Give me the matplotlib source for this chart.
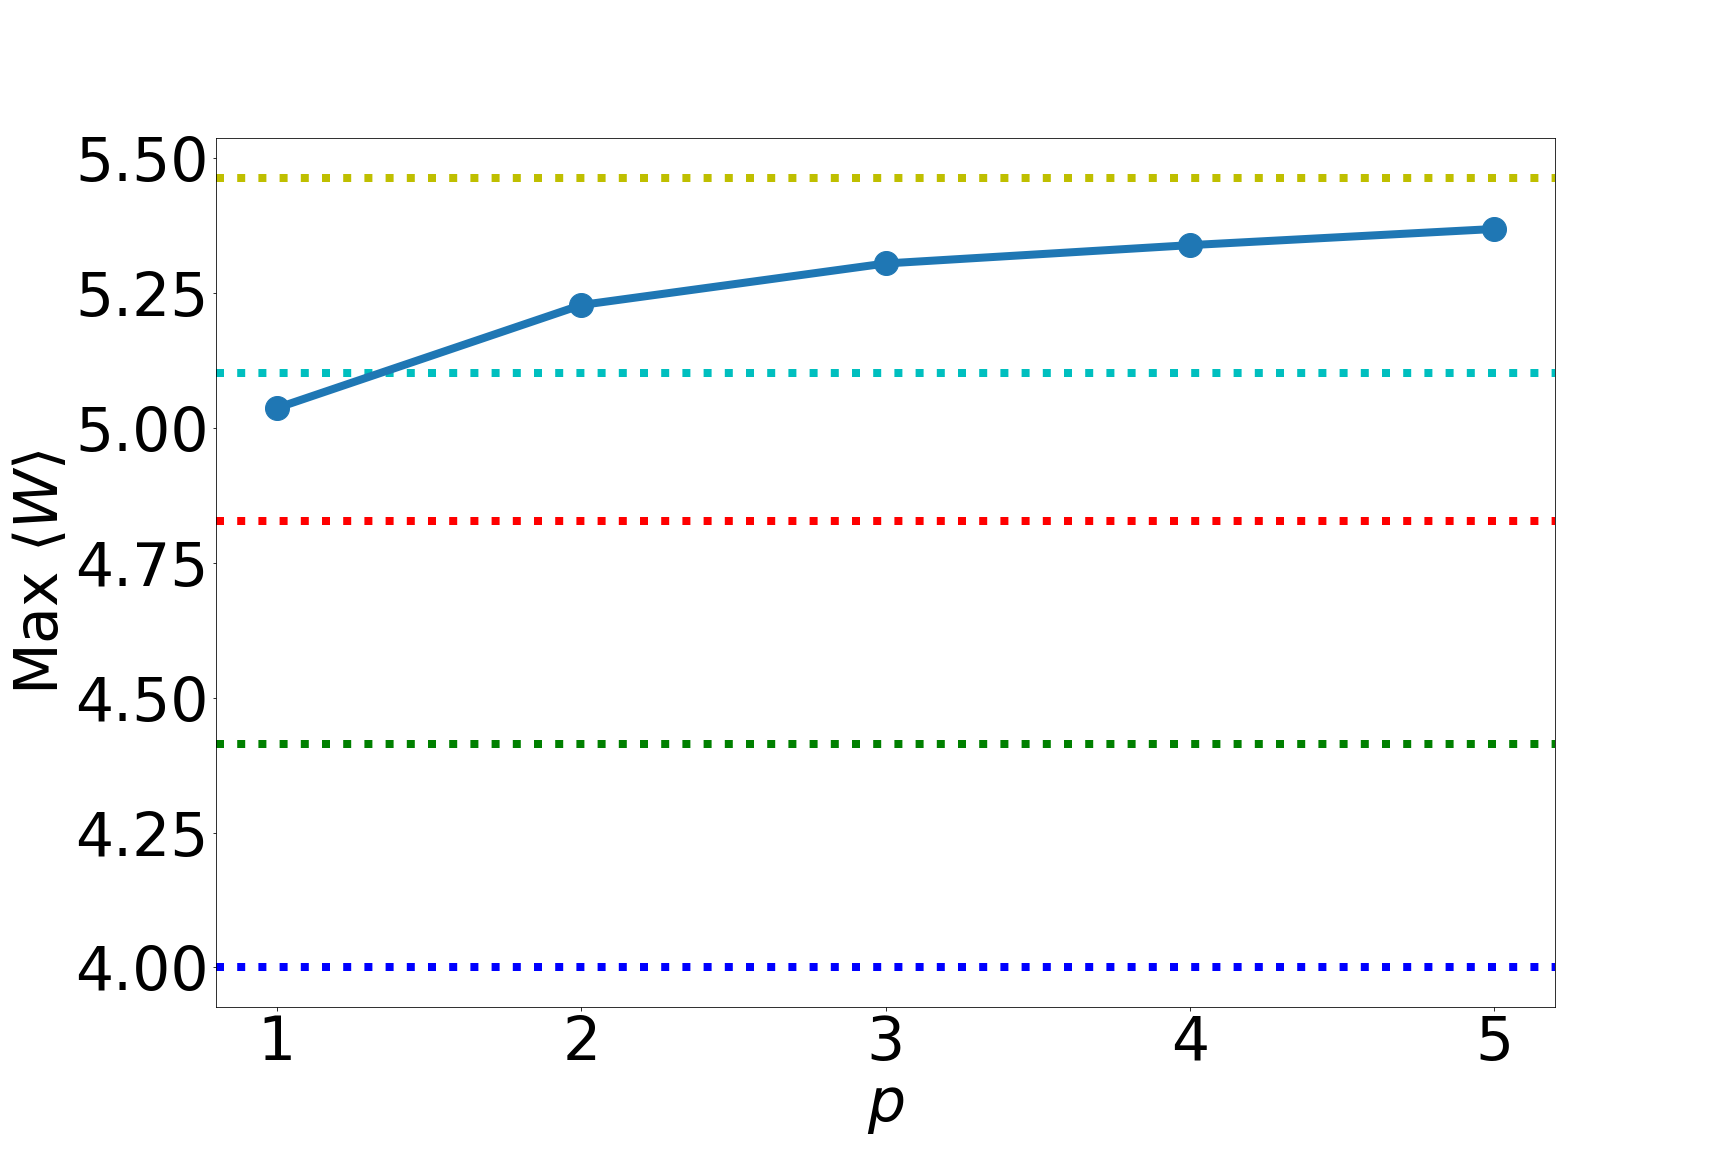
import matplotlib
matplotlib.use("Agg")
import matplotlib.pyplot as plt

p_values = [1, 2, 3, 4, 5]
max_w = [5.037, 5.228, 5.305, 5.339, 5.369]
ref_levels = [4.0, 4.414, 4.828, 5.102, 5.464]
ref_colors = ['b', 'g', 'r', 'c', 'y']
x_ticks = [1, 2, 3, 4, 5]

fig, ax = plt.subplots(figsize=(24, 16), dpi=72)
fig.subplots_adjust(left=0.125, right=0.9, top=0.88, bottom=0.126)
for lvl, col in zip(ref_levels, ref_colors):
    ax.axhline(lvl, color=col, linestyle=':', linewidth=8)
ax.plot(p_values, max_w, 'o-', color='#1f77b4', linewidth=8, markersize=24)
ax.set_xticks(x_ticks)
ax.set_yticks([4.0, 4.25, 4.5, 4.75, 5.0, 5.25, 5.5])
ax.tick_params(labelsize=60)
ax.set_xlabel(r'$p$', fontsize=60)
ax.set_ylabel(r'Max $\langle W \rangle$', fontsize=60)
fig.savefig('out.png', dpi=72)
